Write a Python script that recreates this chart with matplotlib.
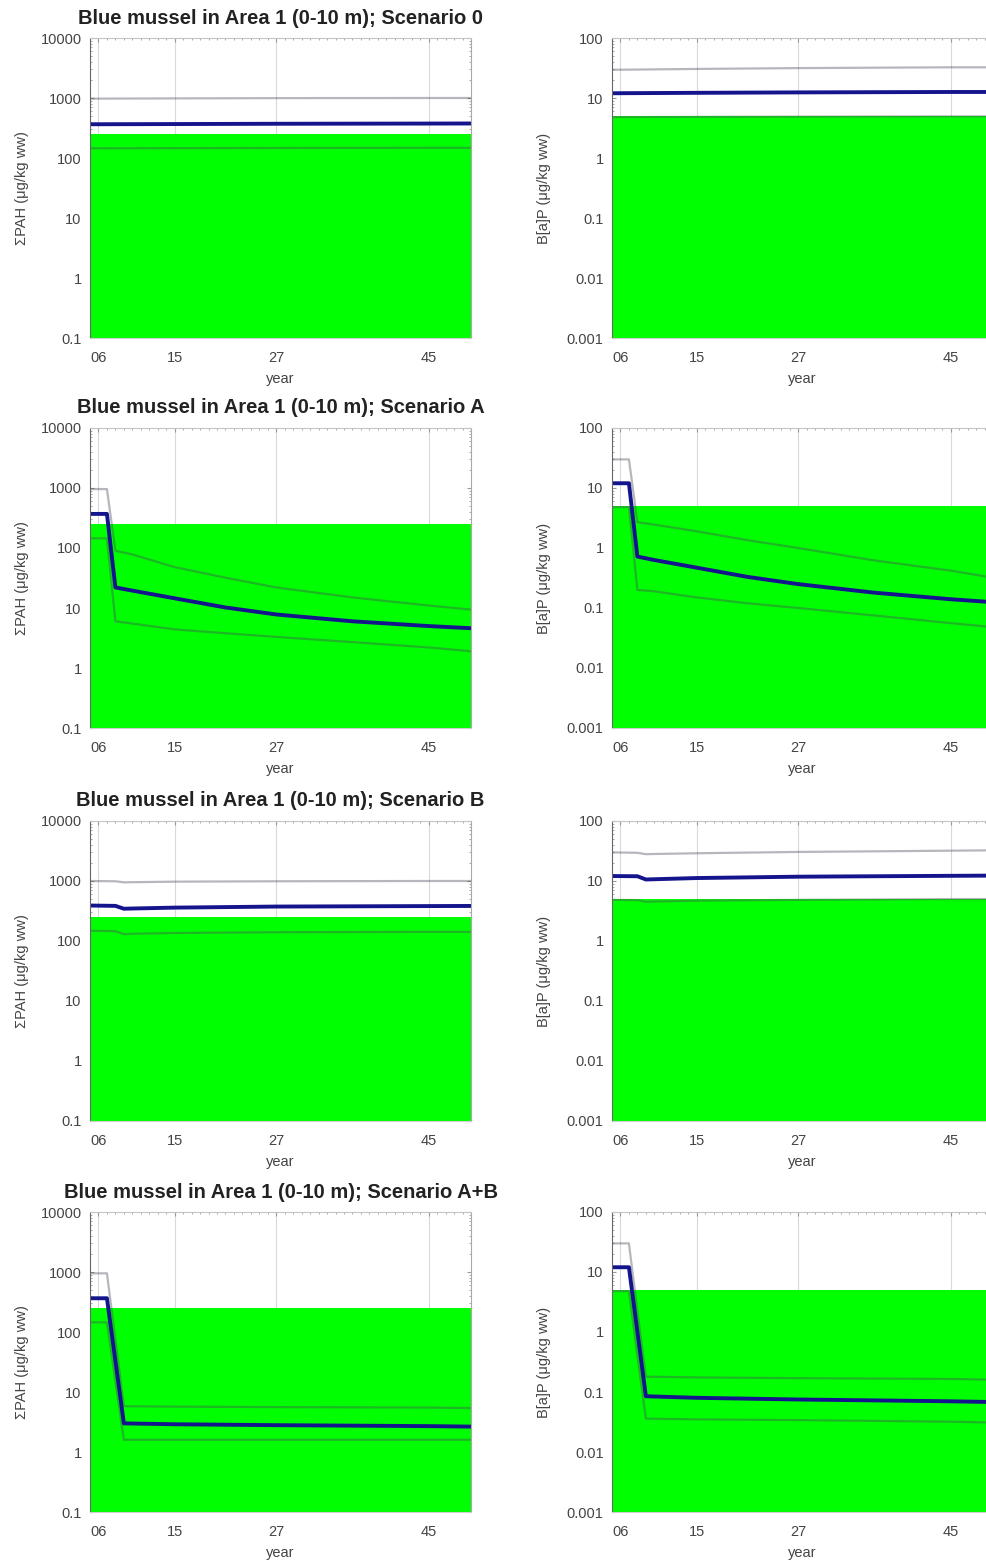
import matplotlib
matplotlib.use('Agg')
import matplotlib.pyplot as plt
from matplotlib.ticker import FixedLocator, MultipleLocator, NullFormatter

# --- data -------------------------------------------------------------------
scenarios = ['0', 'A', 'B', 'A+B']

years_0 = [2005, 2015, 2027, 2045, 2050]
pah_0_mid = [365, 368, 372, 375, 376]
pah_0_hi = [975, 985, 995, 1000, 1000]
pah_0_lo = [145, 146, 147, 148, 148]
bap_0_mid = [12.0, 12.2, 12.4, 12.6, 12.6]
bap_0_hi = [29.5, 30.5, 31.5, 32.5, 32.5]
bap_0_lo = [4.8, 4.85, 4.9, 4.95, 4.95]

years_a = [2005, 2007, 2008, 2010, 2015, 2021, 2027, 2036, 2045, 2050]
pah_a_mid = [370, 370, 22, 19.5, 14.5, 10.2, 7.8, 6.0, 5.0, 4.6]
pah_a_hi = [960, 960, 90, 78, 48, 32, 22, 15, 11, 9.4]
pah_a_lo = [145, 145, 6.0, 5.5, 4.4, 3.8, 3.3, 2.7, 2.2, 1.9]
bap_a_mid = [12, 12, 0.72, 0.63, 0.47, 0.33, 0.25, 0.18, 0.14, 0.125]
bap_a_hi = [30, 30, 2.7, 2.45, 1.9, 1.35, 1.0, 0.62, 0.42, 0.32]
bap_a_lo = [4.8, 4.8, 0.2, 0.19, 0.15, 0.12, 0.1, 0.075, 0.056, 0.048]

years_b = [2005, 2008, 2009, 2010, 2015, 2027, 2045, 2050]
pah_b_mid = [390, 385, 345, 348, 360, 375, 382, 384]
pah_b_hi = [1000, 990, 950, 955, 975, 990, 1000, 1000]
pah_b_lo = [148, 146, 130, 132, 136, 140, 142, 142]
bap_b_mid = [12.1, 12.0, 10.6, 10.7, 11.2, 11.8, 12.2, 12.3]
bap_b_hi = [30, 29.5, 28, 28.2, 29, 30.5, 32, 32.5]
bap_b_lo = [4.85, 4.8, 4.5, 4.55, 4.7, 4.85, 5.0, 5.0]

years_ab = [2005, 2007, 2008, 2009, 2015, 2027, 2045, 2050]
pah_ab_mid = [365, 365, 33, 3.0, 2.9, 2.8, 2.7, 2.65]
pah_ab_hi = [950, 950, 75, 5.8, 5.7, 5.6, 5.5, 5.4]
pah_ab_lo = [145, 145, 15, 1.6, 1.6, 1.6, 1.6, 1.6]
bap_ab_mid = [12, 12, 1.0, 0.085, 0.08, 0.075, 0.07, 0.068]
bap_ab_hi = [30, 30, 2.2, 0.18, 0.175, 0.17, 0.165, 0.16]
bap_ab_lo = [4.8, 4.8, 0.4, 0.036, 0.035, 0.034, 0.032, 0.031]

years = [years_0, years_a, years_b, years_ab]
pah = [(pah_0_lo, pah_0_mid, pah_0_hi), (pah_a_lo, pah_a_mid, pah_a_hi),
       (pah_b_lo, pah_b_mid, pah_b_hi), (pah_ab_lo, pah_ab_mid, pah_ab_hi)]
bap = [(bap_0_lo, bap_0_mid, bap_0_hi), (bap_a_lo, bap_a_mid, bap_a_hi),
       (bap_b_lo, bap_b_mid, bap_b_hi), (bap_ab_lo, bap_ab_mid, bap_ab_hi)]

pah_limit = 250
bap_limit = 5
x_range = [2005, 2050]
x_ticks = [2006, 2015, 2027, 2045]
x_ticklabels = ['06', '15', '27', '45']

# --- style -------------------------------------------------------------------
plt.rcParams['font.family'] = ['Liberation Sans', 'DejaVu Sans']
green = '#00ff00'
band = '#4a4a5c'
blue = '#14148c'
txt = '#444444'

W, H = 986, 1562
fig = plt.figure(figsize=(W / 100, H / 100), dpi=100)

tops = [38, 428, 821, 1212]
ax_w, ax_h = 381, 300


def style(ax, ylim, yticks, ylabel):
    ax.set_yscale('log')
    ax.set_ylim(*ylim)
    ax.set_xlim(*x_range)
    ax.set_yticks(yticks)
    ax.set_yticklabels([('%g' % v) for v in yticks])
    ax.yaxis.set_minor_formatter(NullFormatter())
    ax.xaxis.set_major_locator(FixedLocator(x_ticks))
    ax.set_xticklabels(x_ticklabels)
    ax.xaxis.set_minor_locator(MultipleLocator(1))
    ax.set_axisbelow(True)
    ax.grid(axis='x', color='#d9d9d9', lw=0.8)
    ax.tick_params(which='both', direction='in', top=True, right=True,
                   colors='#9a9a9a', labelcolor=txt, labelsize=10.5)
    ax.tick_params(which='major', length=3)
    ax.tick_params(which='minor', length=1.5)
    ax.tick_params(axis='x', pad=9.5)
    ax.tick_params(axis='y', pad=6)
    ax.spines['left'].set_color('#666666')
    ax.spines['top'].set_color('#c4c4c4')
    ax.spines['right'].set_color('#a8a8a8')
    ax.spines['bottom'].set_color('#cfcfcf')
    for s in ax.spines.values():
        s.set_linewidth(0.8)
        s.set_zorder(4)
    ax.set_xlabel('year', fontsize=10.5, color=txt, labelpad=5)
    ax.set_ylabel(ylabel, fontsize=10.5, color=txt)
    ax.yaxis.set_label_coords(-0.16, 0.5)


for i, sc in enumerate(scenarios):
    b = 1 - (tops[i] + ax_h) / H
    axl = fig.add_axes([90 / W, b, ax_w / W, ax_h / H])
    axr = fig.add_axes([612 / W, b, ax_w / W, ax_h / H])

    for ax, series, lim, ylim, yt, yl in [
            (axl, pah[i], pah_limit, (0.1, 10000), [0.1, 1, 10, 100, 1000, 10000],
             '\u03a3PAH (\u03bcg/kg ww)'),
            (axr, bap[i], bap_limit, (0.001, 100), [0.001, 0.01, 0.1, 1, 10, 100],
             'B[a]P (\u03bcg/kg ww)')]:
        ax.fill_between(x_range, ylim[0], lim, color=green, lw=0, zorder=1)
        lo, mid, hi = series
        ax.plot(years[i], hi, color=band, alpha=0.4, lw=1.6, zorder=2)
        ax.plot(years[i], lo, color=band, alpha=0.4, lw=1.6, zorder=2)
        ax.plot(years[i], mid, color=blue, lw=2.8, zorder=3,
                solid_joinstyle='round')
        style(ax, ylim, yt, yl)

    axl.text(0.5, 1 + 20 / ax_h, 'Blue mussel in Area 1 (0-10 m); Scenario ' + sc,
             transform=axl.transAxes, ha='center', va='center',
             fontsize=14.5, fontweight='bold', color='#222222')

fig.savefig('out.png', dpi=100, facecolor='white')
